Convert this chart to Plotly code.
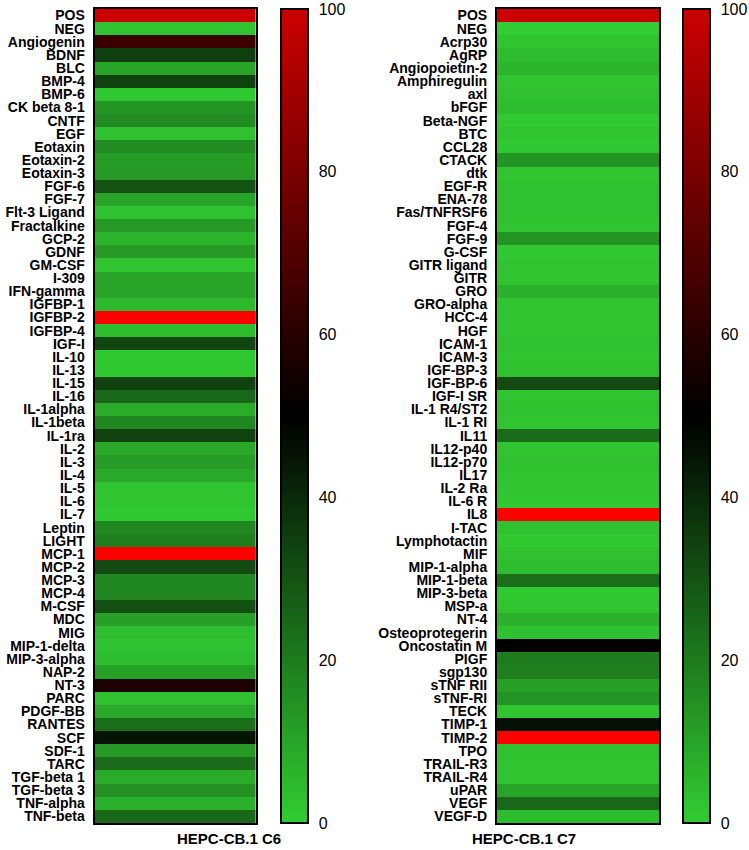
import plotly.graph_objects as go

# cytokine array, two clones; values on a 0-100 scale (>100 = above range)
c6_labels = ["POS", "NEG", "Angiogenin", "BDNF", "BLC", "BMP-4", "BMP-6", "CK beta 8-1", "CNTF", "EGF",
             "Eotaxin", "Eotaxin-2", "Eotaxin-3", "FGF-6", "FGF-7", "Flt-3 Ligand", "Fractalkine", "GCP-2",
             "GDNF", "GM-CSF", "I-309", "IFN-gamma", "IGFBP-1", "IGFBP-2", "IGFBP-4", "IGF-I", "IL-10",
             "IL-13", "IL-15", "IL-16", "IL-1alpha", "IL-1beta", "IL-1ra", "IL-2", "IL-3", "IL-4", "IL-5",
             "IL-6", "IL-7", "Leptin", "LIGHT", "MCP-1", "MCP-2", "MCP-3", "MCP-4", "M-CSF", "MDC", "MIG",
             "MIP-1-delta", "MIP-3-alpha", "NAP-2", "NT-3", "PARC", "PDGF-BB", "RANTES", "SCF", "SDF-1",
             "TARC", "TGF-beta 1", "TGF-beta 3", "TNF-alpha", "TNF-beta"]
c6_values = [100, 2, 65, 35, 10, 34, 1, 14, 16, 3,
             16, 12, 13, 30, 10, 3, 13, 6,
             13, 2, 10, 10, 5, 120, 4, 33, 1,
             1, 34, 25, 8, 17, 34, 9, 12, 9, 2,
             2, 1, 17, 19, 120, 32, 17, 17, 31, 11, 4,
             3, 4, 11, 57, 3, 9, 23, 45, 13,
             24, 8, 15, 7, 25]

c7_labels = ["POS", "NEG", "Acrp30", "AgRP", "Angiopoietin-2", "Amphiregulin", "axl", "bFGF", "Beta-NGF",
             "BTC", "CCL28", "CTACK", "dtk", "EGF-R", "ENA-78", "Fas/TNFRSF6", "FGF-4", "FGF-9", "G-CSF",
             "GITR ligand", "GITR", "GRO", "GRO-alpha", "HCC-4", "HGF", "ICAM-1", "ICAM-3", "IGF-BP-3",
             "IGF-BP-6", "IGF-I SR", "IL-1 R4/ST2", "IL-1 RI", "IL11", "IL12-p40", "IL12-p70", "IL17",
             "IL-2 Ra", "IL-6 R", "IL8", "I-TAC", "Lymphotactin", "MIF", "MIP-1-alpha", "MIP-1-beta",
             "MIP-3-beta", "MSP-a", "NT-4", "Osteoprotegerin", "Oncostatin M", "PIGF", "sgp130", "sTNF RII",
             "sTNF-RI", "TECK", "TIMP-1", "TIMP-2", "TPO", "TRAIL-R3", "TRAIL-R4", "uPAR", "VEGF", "VEGF-D"]
c7_values = [100, 0, 2, 4, 6, 2, 3, 4, 1,
             2, 1, 14, 2, 3, 3, 3, 2, 14, 1,
             2, 2, 7, 2, 2, 2, 3, 2, 3,
             32, 2, 3, 2, 24, 2, 3, 2,
             2, 1, 120, 3, 1, 3, 4, 23,
             1, 2, 7, 3, 50, 20, 19, 11,
             14, 2, 46, 120, 3, 2, 2, 10, 25, 4]

panel_titles = ["HEPC-CB.1 C6", "HEPC-CB.1 C7"]
color_ticks = [0, 20, 40, 60, 80, 100]
ZMAX = 100

scale = [[0, "rgb(50,205,50)"], [0.5, "rgb(0,0,0)"], [1, "rgb(204,0,0)"]]
FONT = "Arial, Liberation Sans, sans-serif"
W, H = 749, 850

fig = go.Figure()
panels = [
    (c6_labels, c6_values, "x", "y", [95 / W, 257 / W], 282 / W),
    (c7_labels, c7_values, "x2", "y2", [499 / W, 662 / W], 686 / W),
]

for i, (labels, vals, xa, ya, dom, cbx) in enumerate(panels):
    fig.add_trace(go.Heatmap(
        z=[[v] for v in vals], x=[0], y=labels, xaxis=xa, yaxis=ya,
        colorscale=scale, zmin=0, zmax=ZMAX,
        colorbar=dict(x=cbx, xanchor="left", y=0.5, len=1, thickness=27,
                      outlinewidth=2, outlinecolor="black", ypad=0, xpad=0,
                      tickvals=color_ticks, ticks="outside", ticklen=7, tickcolor="white",
                      tickfont=dict(family=FONT, size=16, color="black")),
        hovertemplate="%{y}: %{z}<extra></extra>",
    ))
    # values above range drawn in bright red
    fig.add_trace(go.Heatmap(
        z=[[v] if v > ZMAX else [None] for v in vals], x=[0], y=labels, xaxis=xa, yaxis=ya,
        colorscale=[[0, "#ff0000"], [1, "#ff0000"]], showscale=False,
        hoverinfo="skip",
    ))
    sfx = "" if i == 0 else str(i + 1)
    fig.layout["xaxis" + sfx] = dict(domain=dom, showticklabels=False, ticks="",
                                     showline=True, mirror=True, linecolor="black", linewidth=2,
                                     showgrid=False, zeroline=False, anchor="y" + sfx)
    fig.layout["yaxis" + sfx] = dict(autorange="reversed", showline=True, mirror=True,
                                     linecolor="black", linewidth=2, ticks="", showgrid=False,
                                     tickmode="array", tickvals=labels,
                                     ticklabelstandoff=5, anchor="x" + sfx,
                                     tickfont=dict(family=FONT, size=14, color="black", weight="bold"))
    fig.add_annotation(text="<b>" + panel_titles[i] + "</b>", xref="paper", yref="paper",
                       x=(dom[0] + dom[1]) / 2, y=0, yanchor="top", yshift=-5, showarrow=False,
                       font=dict(family=FONT, size=15, color="black"))

fig.update_layout(width=W, height=H, margin=dict(l=0, r=0, t=9, b=27),
                  plot_bgcolor="white", paper_bgcolor="white")

fig.write_html("out.html", config={"displayModeBar": False},
               post_script="document.body.style.margin = '0';")
